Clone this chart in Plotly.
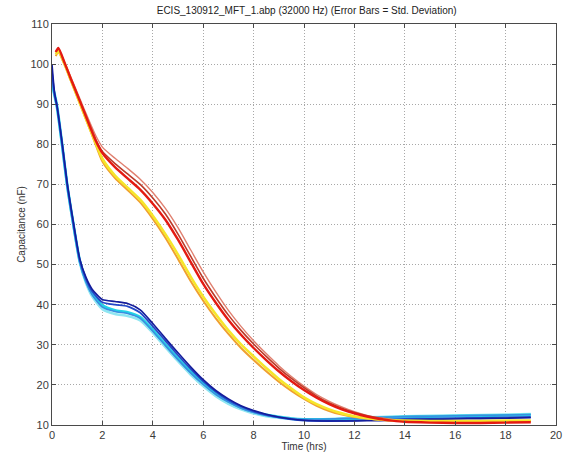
import plotly.graph_objects as go

# ---------------- data ----------------
t_blue = [0, 0.1, 0.2, 0.4, 0.6, 0.85, 1.1, 1.35, 1.6, 2, 2.5, 3, 3.5, 4, 4.5, 5, 5.5, 6,
          6.5, 7, 7.5, 8, 8.5, 9, 9.5, 10, 11, 12, 13, 14, 15, 16, 17, 18, 19]

dark_blue = [100, 93, 89.5, 80.5, 70.5, 60.5, 51.5, 46.8, 43.8, 41.3, 40.8, 40.3, 38.7, 35.3, 31.6,
             28, 24.5, 21.3, 18.6, 16.5, 14.8, 13.6, 12.7, 12.0, 11.5, 11.2, 11, 11, 11.1, 11.3,
             11.4, 11.5, 11.6, 11.7, 11.8]
mid_blue = [98, 92.5, 89.5, 80.3, 70.2, 60.2, 51.2, 46.4, 43.3, 40.6, 40, 39.6, 38, 34.6, 31, 27.4,
            24, 20.9, 18.3, 16.2, 14.6, 13.4, 12.5, 11.9, 11.4, 11.1, 11.0, 11.1, 11.3, 11.5, 11.6,
            11.7, 11.8, 11.9, 12]
light_blue = [96, 92, 89, 79.5, 69.5, 59.5, 50.6, 45.6, 42.4, 39.4, 38.3, 37.8, 36.6, 33.4, 29.8,
              26.3, 23, 20.1, 17.6, 15.7, 14.2, 13.1, 12.4, 11.9, 11.6, 11.4, 11.5, 11.7, 11.9,
              12.1, 12.2, 12.3, 12.4, 12.5, 12.6]
cyan = [95, 92.5, 89.5, 80, 70, 60, 51, 46, 42.8, 39.8, 38.6, 38.1, 36.9, 33.7, 30.1, 26.6, 23.3,
        20.4, 17.9, 15.9, 14.4, 13.3, 12.5, 12, 11.6, 11.4, 11.4, 11.6, 11.8, 12, 12.1, 12.2, 12.3,
        12.4, 12.5]
light_cyan = [95, 92, 89, 79.8, 69.8, 59.8, 50.6, 45.4, 42, 38.9, 37.7, 37.2, 36.1, 33, 29.4, 25.9,
              22.6, 19.7, 17.2, 15.3, 13.9, 12.9, 12.2, 11.8, 11.5, 11.4, 11.5, 11.8, 12, 12.2,
              12.3, 12.4, 12.5, 12.6, 12.7]

t_red = [0.15, 0.25, 0.5, 0.75, 1, 1.25, 1.5, 1.75, 2, 2.5, 3, 3.5, 4, 4.5, 5, 5.5, 6, 6.5, 7, 7.5,
         8, 8.5, 9, 9.5, 10, 10.5, 11, 11.5, 12, 12.5, 13, 13.5, 14, 15, 16, 17, 18, 19]

salmon = [102.5, 103.5, 100.5, 96.7, 93, 89.2, 85.5, 82, 79.3, 76.5, 74, 71.3, 68, 64, 59.2, 53.7,
          48.2, 43.2, 38.6, 34.6, 31, 27.8, 24.8, 22.1, 19.7, 17.6, 15.9, 14.5, 13.3, 12.4, 11.8,
          11.4, 11.1, 10.9, 10.8, 10.8, 10.9, 11]
dark_red = [103, 103.8, 100.2, 96.3, 92.5, 88.6, 84.7, 81, 78.2, 75.2, 72.6, 70, 66.6, 62.6, 57.6,
            52.1, 46.6, 41.8, 37.4, 33.6, 30.2, 27.1, 24.2, 21.6, 19.3, 17.2, 15.5, 14.2, 13.1,
            12.3, 11.7, 11.3, 11, 10.8, 10.7, 10.7, 10.8, 10.9]
red = [103, 104, 100.3, 96.3, 92.4, 88.5, 84.5, 80.7, 77.8, 74.3, 71.5, 68.7, 65.2, 61.2, 56.2,
       50.7, 45.2, 40.5, 36.2, 32.5, 29.2, 26.2, 23.4, 20.9, 18.7, 16.8, 15.2, 13.9, 12.9, 12.1,
       11.5, 11.1, 10.8, 10.6, 10.5, 10.5, 10.6, 10.7]
yellow = [102.5, 103.3, 100, 96, 92, 88, 84, 80, 76.4, 72.2, 69.2, 66.2, 62.2, 57.6, 52.5, 47,
          42, 37.6, 33.6, 30.1, 27.1, 24.2, 21.5, 19.1, 16.9, 15.2, 13.9, 12.9, 12.2, 11.7, 11.4,
          11.2, 11.1, 11, 11, 11, 11.1, 11.1]
orange = [102, 103, 99.8, 95.8, 91.8, 87.8, 83.8, 79.6, 75.7, 71.6, 68.6, 65.5, 61.4, 56.7, 51.4,
          45.9, 41, 36.6, 32.7, 29.2, 26.2, 23.4, 20.8, 18.5, 16.5, 14.8, 13.5, 12.6, 12, 11.6,
          11.3, 11.1, 11, 10.9, 10.9, 10.9, 11, 11]

x_ticks = [0, 2, 4, 6, 8, 10, 12, 14, 16, 18, 20]
y_ticks = [10, 20, 30, 40, 50, 60, 70, 80, 90, 100, 110]

title_text = "ECIS_130912_MFT_1.abp (32000 Hz) (Error Bars = Std. Deviation)"
x_label = "Time (hrs)"
y_label = "Capacitance (nF)"

# ---------------- figure ----------------
fig = go.Figure()

series = [
    (t_blue, light_cyan, "#8fe6f2", 2.6),
    (t_blue, cyan, "#22d3e6", 2.8),
    (t_blue, light_blue, "#3a8ee0", 1.6),
    (t_blue, mid_blue, "#2448c8", 1.8),
    (t_blue, dark_blue, "#141c9a", 1.6),
    (t_red, salmon, "#e08070", 1.4),
    (t_red, dark_red, "#bc3a28", 1.6),
    (t_red, orange, "#f0a030", 2.0),
    (t_red, yellow, "#f6e62a", 2.6),
    (t_red, red, "#e41a12", 2.4),
]

for tx, vy, col, w in series:
    fig.add_trace(go.Scatter(
        x=tx, y=vy, mode="lines",
        line=dict(color=col, width=w, shape="spline", smoothing=0.6),
        showlegend=False, hoverinfo="skip"))

font_family = "Liberation Sans, Arial, sans-serif"
axis_common = dict(
    showline=True, linecolor="#4a4a4a", linewidth=1, mirror="ticks",
    ticks="inside", ticklen=4, tickcolor="#4a4a4a",
    showgrid=True, gridcolor="#a8a8a8", griddash="1px,2px", gridwidth=1,
    zeroline=False,
    tickfont=dict(family=font_family, size=11, color="#3a3a3a"),
)

fig.update_xaxes(range=[0, 20], tickvals=x_ticks, ticktext=[str(v) for v in x_ticks],
                 title=dict(text=x_label, standoff=2,
                            font=dict(family=font_family, size=10, color="#333333")),
                 **axis_common)
fig.update_yaxes(range=[10, 110], tickvals=y_ticks, ticktext=[str(v) for v in y_ticks],
                 title=dict(text=y_label, standoff=2,
                            font=dict(family=font_family, size=10, color="#333333")),
                 **axis_common)

fig.update_layout(
    width=570, height=458,
    margin=dict(l=52, r=8, t=24, b=32),
    paper_bgcolor="white", plot_bgcolor="white",
    title=dict(text=title_text, x=0.538, xanchor="center", y=0.985, yanchor="top",
               font=dict(family=font_family, size=10, color="#222222")),
)

fig.write_html("out.html")
